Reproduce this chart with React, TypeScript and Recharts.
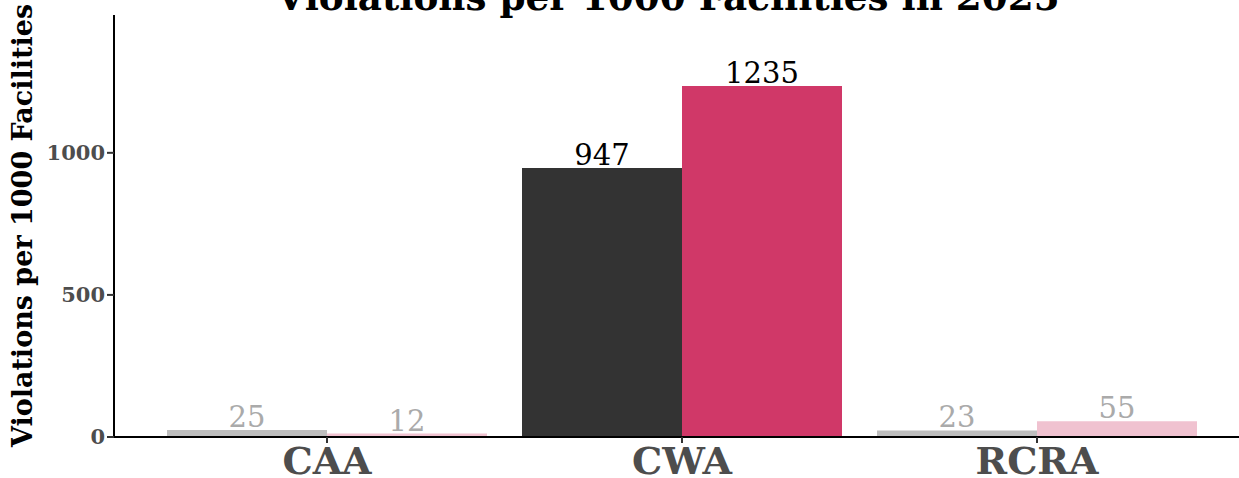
import React from "react";
import { BarChart, Bar, XAxis, YAxis, Cell, LabelList } from "recharts";

const categories = ["CAA", "CWA", "RCRA"];
const seriesA = [25, 947, 23];
const seriesB = [12, 1235, 55];
const yTicks = [0, 500, 1000];
const highlight = "CWA";

const FONT = "'DejaVu Serif', serif";
const colorsA = { on: "#333333", off: "#bebebe" };
const colorsB = { on: "#d03868", off: "#f0c2d0" };
const labelOn = "#000000";
const labelOff = "#aaaaaa";

const data = categories.map((c, i) => ({ cat: c, a: seriesA[i], b: seriesB[i] }));

const makeLabel = (props: any) => {
  const { x, y, width, value, index } = props;
  const on = categories[index] === highlight;
  return (
    <text
      x={x + width / 2}
      y={y - 3}
      textAnchor="middle"
      fontFamily={FONT}
      fontSize={29}
      fill={on ? labelOn : labelOff}
    >
      {value}
    </text>
  );
};

const XTick = (props: any) => {
  const { x, y, payload } = props;
  return (
    <text x={x} y={y + 29} textAnchor="middle" fontFamily={FONT} fontWeight="bold" fontSize={38} fill="#4d4d4d">
      {payload.value}
    </text>
  );
};

export default function App() {
  return (
    <div style={{ position: "absolute", left: 0, top: 0, width: 1239, height: 478, overflow: "hidden", background: "#fff" }}>
      <BarChart
        width={1260}
        height={478}
        data={data}
        margin={{ top: 15, right: 10, bottom: 0, left: 0 }}
        barCategoryGap={17.5}
        barGap={0}
      >
        <XAxis
          dataKey="cat"
          padding={{ left: 35.5, right: 35.5 }}
          height={41}
          axisLine={{ stroke: "#000", strokeWidth: 2 }}
          tickLine={{ stroke: "#333", strokeWidth: 2 }}
          tickSize={6}
          tick={<XTick />}
          interval={0}
        />
        <YAxis
          width={114}
          domain={[0, 1485]}
          ticks={yTicks}
          axisLine={{ stroke: "#000", strokeWidth: 2 }}
          tickLine={{ stroke: "#333", strokeWidth: 2 }}
          tickSize={7}
          tickMargin={2}
          tick={{ fontFamily: FONT, fontWeight: "bold", fontSize: 21, fill: "#4d4d4d" }}
        />
        <Bar dataKey="a" isAnimationActive={false}>
          {data.map((d) => (
            <Cell key={d.cat} fill={d.cat === highlight ? colorsA.on : colorsA.off} />
          ))}
          <LabelList dataKey="a" content={makeLabel} />
        </Bar>
        <Bar dataKey="b" isAnimationActive={false}>
          {data.map((d) => (
            <Cell key={d.cat} fill={d.cat === highlight ? colorsB.on : colorsB.off} />
          ))}
          <LabelList dataKey="b" content={makeLabel} />
        </Bar>
      </BarChart>
      <svg width={1239} height={478} style={{ position: "absolute", left: 0, top: 0, pointerEvents: "none" }}>
        <text x={668} y={10} textAnchor="middle" fontFamily={FONT} fontWeight="bold" fontSize={37.3} fill="#000">
          Violations per 1000 Facilities in 2025
        </text>
        <text
          x={32}
          y={225.5}
          transform="rotate(-90, 32, 225.5)"
          textAnchor="middle"
          fontFamily={FONT}
          fontWeight="bold"
          fontSize={27}
          fill="#000"
        >
          Violations per 1000 Facilities
        </text>
      </svg>
    </div>
  );
}
